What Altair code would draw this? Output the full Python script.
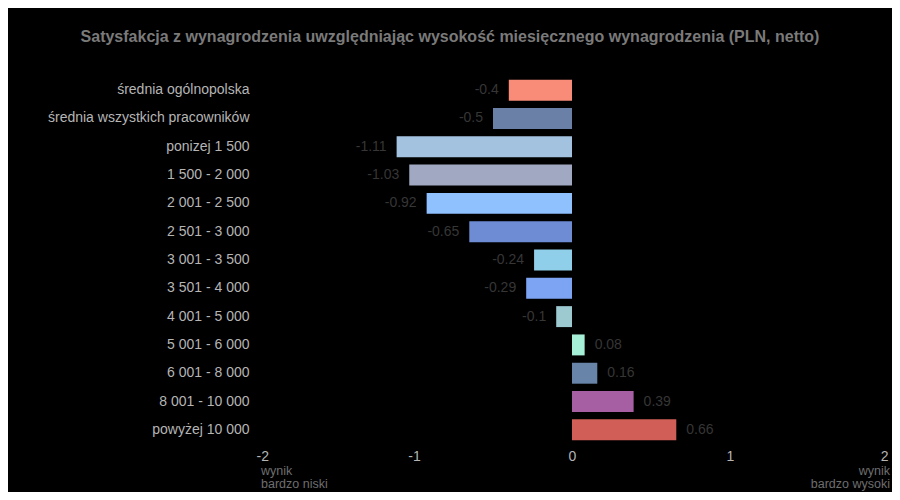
import altair as alt
import pandas as pd

categories = [
    "średnia ogólnopolska",
    "średnia wszystkich pracowników",
    "ponizej 1 500",
    "1 500 - 2 000",
    "2 001 - 2 500",
    "2 501 - 3 000",
    "3 001 - 3 500",
    "3 501 - 4 000",
    "4 001 - 5 000",
    "5 001 - 6 000",
    "6 001 - 8 000",
    "8 001 - 10 000",
    "powyżej 10 000",
]
values = [-0.4, -0.5, -1.11, -1.03, -0.92, -0.65, -0.24, -0.29, -0.1, 0.08, 0.16, 0.39, 0.66]
colors = [
    "#F98C79", "#6B80A6", "#A3C2E0", "#A0A9C1", "#8FC1FF", "#6E8CD4",
    "#90CFEA", "#7CA4F2", "#9DC9D1", "#A6F0D8", "#6984A9", "#A65FA2", "#D25F57",
]
ends = [-2, 2]
end_texts = ["wynik\nbardzo niski", "wynik\nbardzo wysoki"]

df = pd.DataFrame({"cat": categories, "val": values, "col": colors})
df["lab"] = [str(v) for v in values]

FONT = "Liberation Sans"
H = 368
W = 632

xscale = alt.Scale(domain=[-2, 2], nice=False, zero=False)
yscale = alt.Scale(domain=categories, paddingInner=0.26, paddingOuter=0.13)

base = alt.Chart(df)

bars = base.mark_bar().encode(
    x=alt.X("val:Q", scale=xscale,
            axis=alt.Axis(values=[-2, -1, 0, 1, 2], title=None, grid=False, domain=False,
                          ticks=False, labelColor="#b5b5b5", labelFontSize=14,
                          labelFont=FONT, labelPadding=5,
                          labelExpr="'' + datum.value")),
    y=alt.Y("cat:N", scale=yscale, sort=categories,
            axis=alt.Axis(title=None, domain=False, ticks=False, grid=False,
                          labelColor="#b5b5b5", labelFontSize=14, labelFont=FONT,
                          labelPadding=7, labelLimit=240)),
    color=alt.Color("col:N", scale=None),
)

neg = base.transform_filter("datum.val < 0").mark_text(
    align="right", baseline="middle", dx=-10, fontSize=14, font=FONT, color="#363636"
).encode(x=alt.X("val:Q", scale=xscale), y=alt.Y("cat:N", scale=yscale, sort=categories), text="lab:N")

pos = base.transform_filter("datum.val > 0").mark_text(
    align="left", baseline="middle", dx=10, fontSize=14, font=FONT, color="#363636"
).encode(x=alt.X("val:Q", scale=xscale), y=alt.Y("cat:N", scale=yscale, sort=categories), text="lab:N")

edf = pd.DataFrame({"x": ends, "t": end_texts})
left_t = alt.Chart(edf).transform_filter("datum.x < 0").mark_text(
    align="left", baseline="top", dx=5, lineBreak="\n", fontSize=12.5, font=FONT,
    color="#6e6e6e", lineHeight=13
).encode(x=alt.X("x:Q", scale=xscale), y=alt.value(H + 21), text="t:N")
right_t = alt.Chart(edf).transform_filter("datum.x > 0").mark_text(
    align="right", baseline="top", dx=2, lineBreak="\n", fontSize=12.5, font=FONT,
    color="#6e6e6e", lineHeight=13
).encode(x=alt.X("x:Q", scale=xscale), y=alt.value(H + 21), text="t:N")

chart = alt.layer(bars, neg, pos, left_t, right_t).properties(
    width=W, height=H,
    background="#000000",
    autosize=alt.AutoSizeParams(type="none"),
    padding={"top": 68, "left": 248, "right": 4, "bottom": 48},
    title=alt.TitleParams(
        "Satysfakcja z wynagrodzenia uwzględniając wysokość miesięcznego wynagrodzenia (PLN, netto)",
        anchor="middle", frame="group", dx=-122, offset=31, fontSize=16,
        font=FONT, fontWeight="bold", color="#7a7a7a",
    ),
).configure_view(stroke=None)

chart.save("out.html", embed_options={"renderer": "svg", "actions": False})
